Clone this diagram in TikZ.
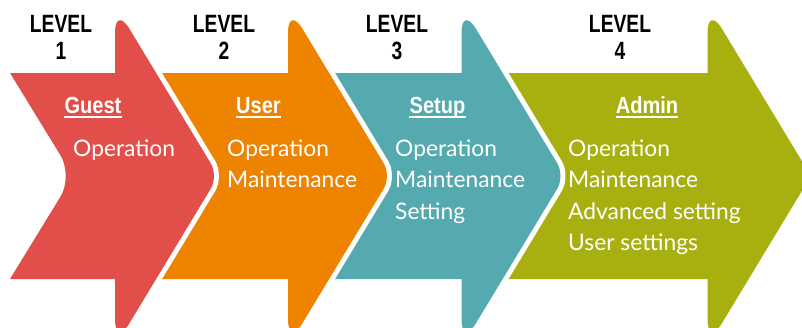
\documentclass[tikz,border=0pt]{standalone}
\usepackage{fontspec}
\setmainfont{Lato}
\newfontfamily\levelfont{Liberation Sans}[FakeStretch=0.77]
\newfontfamily\titlefont{Liberation Sans}[FakeStretch=0.86]
\definecolor{cRed}{RGB}{226,79,74}
\definecolor{cOrange}{RGB}{238,131,0}
\definecolor{cTeal}{RGB}{84,170,174}
\definecolor{cOlive}{RGB}{168,176,16}
\tikzset{
  gapline/.style={draw=white, line width=10pt, line join=round},
  levellabel/.style={anchor=base, inner sep=0pt, text=black,
    font=\levelfont\bfseries\fontsize{25}{27}\selectfont},
  titlelabel/.style={anchor=base, inner sep=0pt, text=white,
    font=\titlefont\bfseries\fontsize{23.3}{26}\selectfont},
  itemlist/.style={anchor=base west, inner sep=0pt, text=white,
    font=\fontsize{22.8}{31.5}\selectfont},
  uline/.style={draw=white, line width=1.5pt}
}
% #1 = left end of body, #2 = back of head, #3 = colour
\newcommand\chevronarrow[3]{%
  \draw[gapline] (#1,73) -- (#2+30,73) -- (#2+30,279) -- (#1,279) -- (#1+50.6,196.5)
    .. controls (#1+57.4,185.2) and (#1+57.4,166.8) .. (#1+50.6,155.5) -- cycle;
  \draw[gapline] (#2,33) .. controls (#2,17.6) and (#2+6.5,15.8) .. (#2+14.5,28.9)
    -- (#2+95.7,163.2) .. controls (#2+100,170.25) and (#2+100,181.75) .. (#2+95.7,188.8)
    -- (#2+14.5,323.1) .. controls (#2+6.5,336.2) and (#2,334.4) .. (#2,319) -- cycle;
  \fill[#3] (#1,73) -- (#2+30,73) -- (#2+30,279) -- (#1,279) -- (#1+50.6,196.5)
    .. controls (#1+57.4,185.2) and (#1+57.4,166.8) .. (#1+50.6,155.5) -- cycle;
  \fill[#3] (#2,33) .. controls (#2,17.6) and (#2+6.5,15.8) .. (#2+14.5,28.9)
    -- (#2+95.7,163.2) .. controls (#2+100,170.25) and (#2+100,181.75) .. (#2+95.7,188.8)
    -- (#2+14.5,323.1) .. controls (#2+6.5,336.2) and (#2,334.4) .. (#2,319) -- cycle;
}
\begin{document}
\begin{tikzpicture}[x=1pt,y=-1pt]
  \useasboundingbox (0,0) rectangle (802,327);
  \fill[white] (0,0) rectangle (802,327);
  \clip (0,0) rectangle (802,327);
  % arrows, drawn from last to first
  \chevronarrow{486.5}{707.5}{cOlive}
  \chevronarrow{313}{461.5}{cTeal}
  \chevronarrow{140}{288}{cOrange}
  \chevronarrow{10}{115}{cRed}
  % level labels
  \node[levellabel] (lv1) at (61,32.7) {\begin{tabular}[t]{@{}c@{}}LEVEL\\1\end{tabular}};
  \node[levellabel] (lv2) at (224,32.7) {\begin{tabular}[t]{@{}c@{}}LEVEL\\2\end{tabular}};
  \node[levellabel] (lv3) at (397,32.7) {\begin{tabular}[t]{@{}c@{}}LEVEL\\3\end{tabular}};
  \node[levellabel] (lv4) at (620,32.7) {\begin{tabular}[t]{@{}c@{}}LEVEL\\4\end{tabular}};
  % titles
  \node[titlelabel] (t1) at (93,113.3) {Guest};
  \node[titlelabel] (t2) at (258.5,113.3) {User};
  \node[titlelabel] (t3) at (437.5,113.3) {Setup};
  \node[titlelabel] (t4) at (647,113.3) {Admin};
  \foreach \t in {t1,t2,t3,t4}
    \draw[uline] ([yshift=-3.6pt]\t.base west) -- ([yshift=-3.6pt]\t.base east);
  % items
  \node[itemlist] (i1) at (73,156) {\begin{tabular}[t]{@{}l@{}}Operation\end{tabular}};
  \node[itemlist] (i2) at (227,156) {\begin{tabular}[t]{@{}l@{}}Operation\\Maintenance\end{tabular}};
  \node[itemlist] (i3) at (395,156) {\begin{tabular}[t]{@{}l@{}}Operation\\Maintenance\\Setting\end{tabular}};
  \node[itemlist] (i4) at (568,156) {\begin{tabular}[t]{@{}l@{}}Operation\\Maintenance\\Advanced setting\\User settings\end{tabular}};
\end{tikzpicture}
\end{document}
